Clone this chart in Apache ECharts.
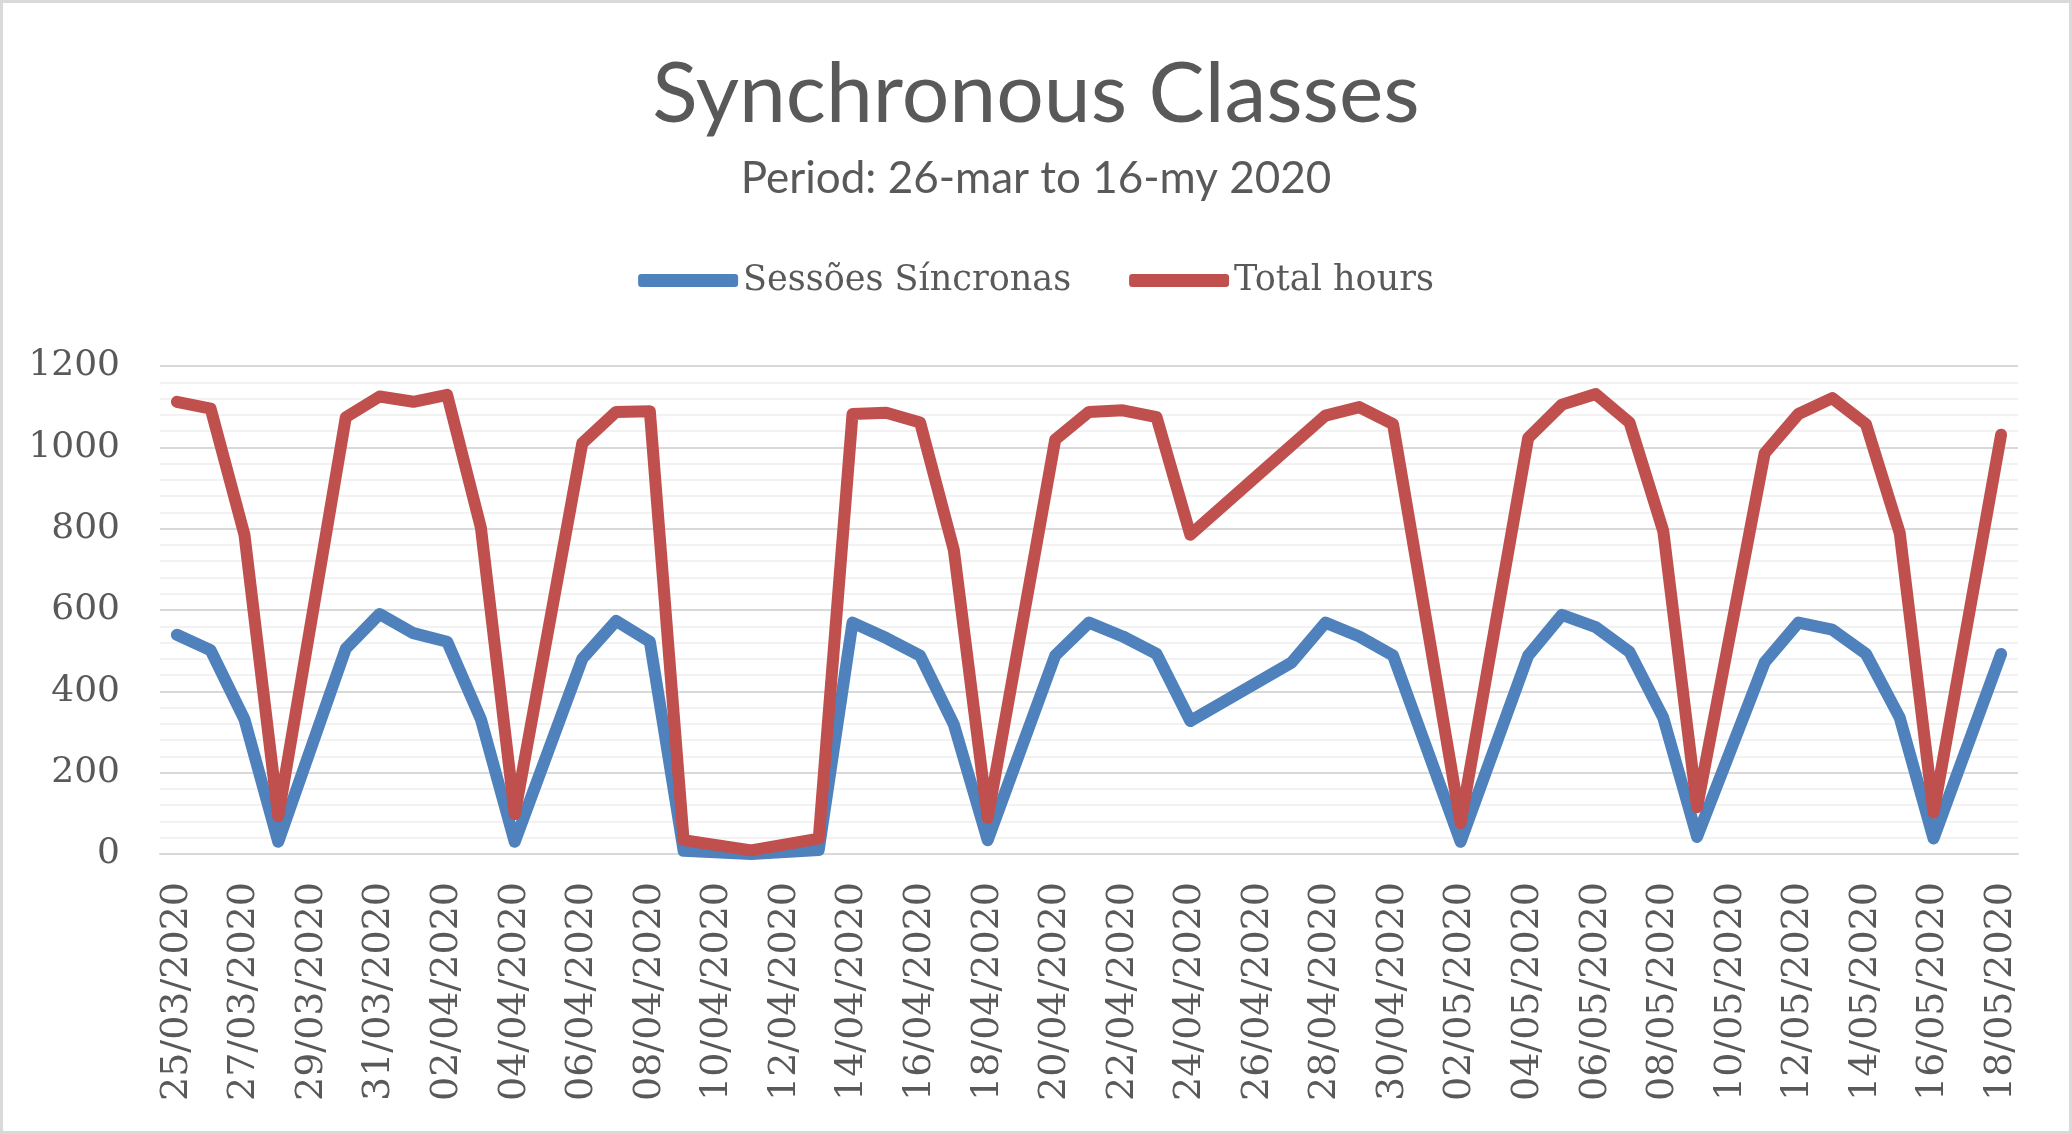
<!DOCTYPE html>
<html>
<head>
<meta charset="utf-8">
<title>Synchronous Classes</title>
<script src="https://cdn.jsdelivr.net/npm/echarts@6/dist/echarts.min.js"></script>
<style>
  html, body { margin: 0; padding: 0; background: #fff; }
  #chart { width: 2072px; height: 1134px; }
</style>
</head>
<body>
<div id="chart"></div>
<script>
// one category per day, 25/03 .. 18/05 (Excel date axis)
const days = [
  '25/03/2020', '26/03/2020', '27/03/2020', '28/03/2020', '29/03/2020', '30/03/2020', '31/03/2020',
  '01/04/2020', '02/04/2020', '03/04/2020', '04/04/2020', '05/04/2020', '06/04/2020', '07/04/2020',
  '08/04/2020', '09/04/2020', '10/04/2020', '11/04/2020', '12/04/2020', '13/04/2020', '14/04/2020',
  '15/04/2020', '16/04/2020', '17/04/2020', '18/04/2020', '19/04/2020', '20/04/2020', '21/04/2020',
  '22/04/2020', '23/04/2020', '24/04/2020', '25/04/2020', '26/04/2020', '27/04/2020', '28/04/2020',
  '29/04/2020', '30/04/2020', '01/05/2020', '02/05/2020', '03/05/2020', '04/05/2020', '05/05/2020',
  '06/05/2020', '07/05/2020', '08/05/2020', '09/05/2020', '10/05/2020', '11/05/2020', '12/05/2020',
  '13/05/2020', '14/05/2020', '15/05/2020', '16/05/2020', '17/05/2020', '18/05/2020'
]

// null = no record that day (line is joined across it)
const sessoes = [
  539, 501, 331, 30, null, 505, 590,
  543, 522, 331, 30, null, 480, 573,
  522, 8, null, 0, null, 10, 569,
  531, 488, 318, 34, null, 488, 569,
  535, 492, 327, null, null, 471, 569,
  535, 488, null, 30, null, 488, 588,
  558, 497, 335, 42, null, 471, 569,
  552, 492, 335, 38, null, 492
]

const totalHours = [
  1112, 1095, 785, 93, null, 1074, 1125,
  1112, 1129, 802, 98, null, 1010, 1087,
  1089, 34, null, 9, null, 38, 1082,
  1085, 1061, 747, 89, null, 1019, 1087,
  1091, 1074, 785, null, null, 1005, 1078,
  1099, 1057, null, 76, null, 1023, 1105,
  1131, 1061, 794, 115, null, 985, 1082,
  1121, 1057, 789, 102, null, 1031
]

const yTicks = [0, 200, 400, 600, 800, 1000, 1200]

const textGrey = '#595959'
const serif = 'DejaVu Serif'

const chart = echarts.init(document.getElementById('chart'))

const lineSeries = (name, data, color) => ({
  name,
  type: 'line',
  data,
  connectNulls: true,
  showSymbol: false,
  symbol: 'none',
  lineStyle: { color, width: 12, cap: 'round', join: 'round' },
  itemStyle: { color },
})

chart.setOption({
  animation: false,
  backgroundColor: '#fff',
  title: [
    {
      text: 'Synchronous Classes',
      left: 'center',
      top: 48,
      textStyle: { fontFamily: 'Lato', fontWeight: 'normal', fontSize: 84, color: textGrey },
    },
    {
      text: 'Period: 26-mar to 16-my 2020',
      left: 'center',
      top: 152,
      textStyle: { fontFamily: 'Lato', fontWeight: 'normal', fontSize: 44, color: textGrey },
    },
  ],
  legend: {
    top: 258,
    left: 'center',
    itemGap: 58,
    itemWidth: 100,
    itemHeight: 13,
    icon: 'roundRect',
    textStyle: { fontFamily: serif, fontSize: 35, color: textGrey },
    data: ['Sessões Síncronas', 'Total hours'],
  },
  grid: { left: 160, right: 54, top: 366, bottom: 280, containLabel: false },
  xAxis: {
    type: 'category',
    data: days,
    boundaryGap: true,
    axisLine: { lineStyle: { color: '#D9D9D9', width: 2 } },
    axisTick: { interval: 1, length: 13, lineStyle: { color: '#D9D9D9', width: 2 } },
    axisLabel: {
      interval: 1,
      rotate: 90,
      margin: 28,
      fontFamily: serif,
      fontSize: 38,
      color: textGrey,
    },
  },
  yAxis: {
    type: 'value',
    min: yTicks[0],
    max: yTicks[yTicks.length - 1],
    interval: 200,
    axisLine: { show: false },
    axisTick: { show: false },
    axisLabel: {
      margin: 40,
      fontFamily: serif,
      fontSize: 36,
      color: textGrey,
      formatter: (v) => String(v),
    },
    splitLine: { lineStyle: { color: '#D9D9D9', width: 2 } },
    minorTick: { show: false, splitNumber: 5 },
    minorSplitLine: { show: true, lineStyle: { color: '#F2F2F2', width: 2 } },
  },
  graphic: [
    {
      type: 'rect',
      silent: true,
      shape: { x: 1.5, y: 1.5, width: 2069, height: 1131 },
      style: { fill: 'none', stroke: '#D9D9D9', lineWidth: 3 },
    },
  ],
  series: [
    lineSeries('Sessões Síncronas', sessoes, '#4F81BD'),
    lineSeries('Total hours', totalHours, '#C0504D'),
  ],
})
</script>
</body>
</html>
